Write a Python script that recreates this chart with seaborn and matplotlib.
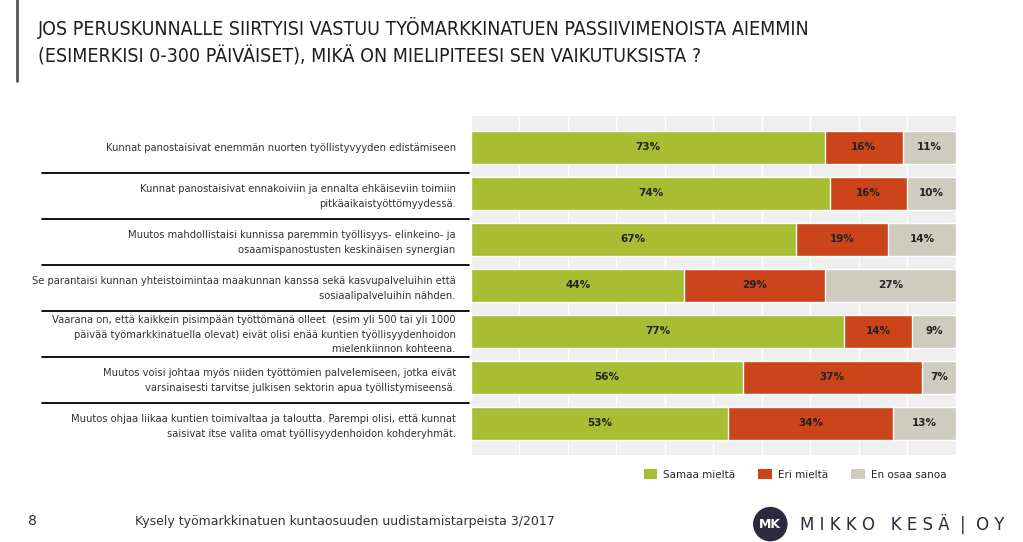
import pandas as pd
import matplotlib.pyplot as plt
import seaborn as sns
from matplotlib.patches import Patch

# Data
statements = [
    "Kunnat panostaisivat enemmän nuorten työllistyvyyden edistämiseen",
    "Kunnat panostaisivat ennakoiviin ja ennalta ehkäiseviin toimiin\npitkäaikaistyöttömyydessä.",
    "Muutos mahdollistaisi kunnissa paremmin työllisyys- elinkeino- ja\nosaamispanostusten keskinäisen synergian",
    "Se parantaisi kunnan yhteistoimintaa maakunnan kanssa sekä kasvupalveluihin että\nsosiaalipalveluihin nähden.",
    "Vaarana on, että kaikkein pisimpään työttömänä olleet  (esim yli 500 tai yli 1000\npäivää työmarkkinatuella olevat) eivät olisi enää kuntien työllisyydenhoidon\nmielenkiinnon kohteena.",
    "Muutos voisi johtaa myös niiden työttömien palvelemiseen, jotka eivät\nvarsinaisesti tarvitse julkisen sektorin apua työllistymiseensä.",
    "Muutos ohjaa liikaa kuntien toimivaltaa ja taloutta. Parempi olisi, että kunnat\nsaisivat itse valita omat työllisyydenhoidon kohderyhmät.",
]
samaa = [73, 74, 67, 44, 77, 56, 53]
eri = [16, 16, 19, 29, 14, 37, 34]
en_osaa = [11, 10, 14, 27, 9, 7, 13]
series_names = ["Samaa mieltä", "Eri mieltä", "En osaa sanoa"]

title = ("JOS PERUSKUNNALLE SIIRTYISI VASTUU TYÖMARKKINATUEN PASSIIVIMENOISTA AIEMMIN\n"
         "(ESIMERKISI 0-300 PÄIVÄISET), MIKÄ ON MIELIPITEESI SEN VAIKUTUKSISTA ?")
footer = "Kysely työmarkkinatuen kuntaosuuden uudistamistarpeista 3/2017"

green = "#a9bd33"
red = "#cc4419"
grey = "#cecbbf"

df = pd.DataFrame({"statement": statements, "samaa": samaa, "eri": eri, "en": en_osaa})
df["cum2"] = df["samaa"] + df["eri"]
df["cum3"] = df["cum2"] + df["en"]

sns.set_style("white")
plt.rcParams["font.family"] = ["DejaVu Sans"]

fig = plt.figure(figsize=(10.23, 5.42), dpi=100)
ax = fig.add_axes([0.4604, 0.1605, 0.474, 0.6255])
ax.set_facecolor("#efefef")

# stacked bars: draw cumulative totals back to front
sns.barplot(data=df, x="cum3", y="statement", color=grey, width=0.7, ax=ax,
            orient="h", zorder=2, saturation=1)
sns.barplot(data=df, x="cum2", y="statement", color=red, width=0.7, ax=ax,
            orient="h", zorder=3, saturation=1)
sns.barplot(data=df, x="samaa", y="statement", color=green, width=0.7, ax=ax,
            orient="h", zorder=4, saturation=1)

# value labels
for i, row in df.iterrows():
    ax.text(row["samaa"] / 2, i, f"{row['samaa']}%", ha="center", va="center",
            fontsize=7.5, fontweight="bold", color="#222222", zorder=5)
    ax.text(row["samaa"] + row["eri"] / 2, i, f"{row['eri']}%", ha="center", va="center",
            fontsize=7.5, fontweight="bold", color="#222222", zorder=5)
    ax.text(row["cum2"] + row["en"] / 2, i, f"{row['en']}%", ha="center", va="center",
            fontsize=7.5, fontweight="bold", color="#222222", zorder=5)

ax.set_xlim(0, 100)
ax.set_xticks(range(0, 101, 10))
ax.xaxis.grid(True, color="white", linewidth=1.0, zorder=1)
ax.set_axisbelow(True)
ax.tick_params(axis="x", length=0, labelbottom=False)
ax.tick_params(axis="y", length=0, pad=11, labelsize=7.2, labelcolor="#333333")
for t in ax.get_yticklabels():
    t.set_linespacing(1.55)
ax.set_xlabel("")
ax.set_ylabel("")
for s in ax.spines.values():
    s.set_visible(False)

# separator lines between statements
trans = ax.get_yaxis_transform()
for k in range(len(statements) - 1):
    ax.plot([-0.885, -0.005], [k + 0.55, k + 0.55], color="black", linewidth=1.3,
            transform=trans, clip_on=False)

handles = [Patch(facecolor=c, edgecolor="none") for c in (green, red, grey)]
ax.legend(handles, series_names, loc="upper right", bbox_to_anchor=(1.0, -0.015),
          ncol=3, frameon=False, fontsize=7.5, handlelength=1.3, handleheight=1.1,
          columnspacing=2.2, handletextpad=0.6)

# slide decorations
fig.text(0.037, 0.968, title, fontsize=14, fontstretch="condensed", color="#1e1e1e",
         va="top", ha="left", linespacing=1.45)
fig.add_artist(plt.Line2D([0.0165, 0.0165], [0.85, 1.0], color="#555555", linewidth=2))
fig.text(0.027, 0.026, "8", fontsize=10, color="#333333", va="bottom")
fig.text(0.132, 0.026, footer, fontsize=9, color="#333333", va="bottom")
fig.text(0.753, 0.033, "MK", fontsize=9, fontweight="bold", color="white", ha="center",
         va="center", bbox=dict(boxstyle="circle,pad=0.5", facecolor="#2b2b3d", edgecolor="none"))
fig.text(0.782, 0.033, "M I K K O   K E S Ä  |  O Y", fontsize=12, color="#2b2b3d",
         ha="left", va="center")

fig.savefig("out.png", dpi=100)
